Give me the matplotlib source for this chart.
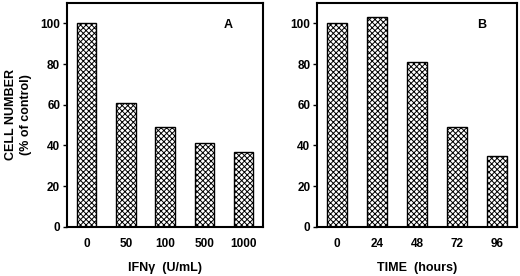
import matplotlib
matplotlib.use("Agg")
import matplotlib.pyplot as plt

plt.rcParams['font.family'] = ['Liberation Sans', 'DejaVu Sans']
plt.rcParams['hatch.linewidth'] = 0.7

cats_a = ["0", "50", "100", "500", "1000"]
vals_a = [100, 61, 49, 41, 37]
cats_b = ["0", "24", "48", "72", "96"]
vals_b = [100, 103, 81, 49, 35]

fig = plt.figure(figsize=(5.2, 2.76), dpi=100)
axA = fig.add_axes([0.129, 0.178, 0.377, 0.811])
axB = fig.add_axes([0.610, 0.178, 0.385, 0.811])

def style(ax, cats, vals, xlabel, letter, ylabel=None):
    x = list(range(len(cats)))
    ax.bar(x, vals, width=0.5, color='white', edgecolor='black', hatch='xxxxxx', linewidth=1.0)
    ax.set_xlim(-0.5, len(cats) - 0.5)
    ax.set_ylim(0, 110)
    ax.set_yticks([0, 20, 40, 60, 80, 100])
    ax.set_xticks(x)
    ax.set_xticklabels(cats)
    ax.tick_params(axis='x', length=0, pad=8, labelsize=8.5)
    ax.tick_params(axis='y', length=3, width=1.0, pad=2, labelsize=8.5)
    for lab in ax.get_xticklabels() + ax.get_yticklabels():
        lab.set_fontweight('bold')
    for s in ax.spines.values():
        s.set_linewidth(1.5)
    ax.set_xlabel(xlabel, fontsize=9, fontweight='bold', labelpad=9)
    ax.text(0.82, 0.9, letter, transform=ax.transAxes, fontsize=9, fontweight='bold', ha='center', va='center')
    if ylabel:
        ax.set_ylabel(ylabel, fontsize=9, fontweight='bold', labelpad=6, linespacing=1.3)

style(axA, cats_a, vals_a, "IFNγ  (U/mL)", "A", "CELL NUMBER\n(% of control)")
style(axB, cats_b, vals_b, "TIME  (hours)", "B")

fig.savefig("out.png", dpi=100)
